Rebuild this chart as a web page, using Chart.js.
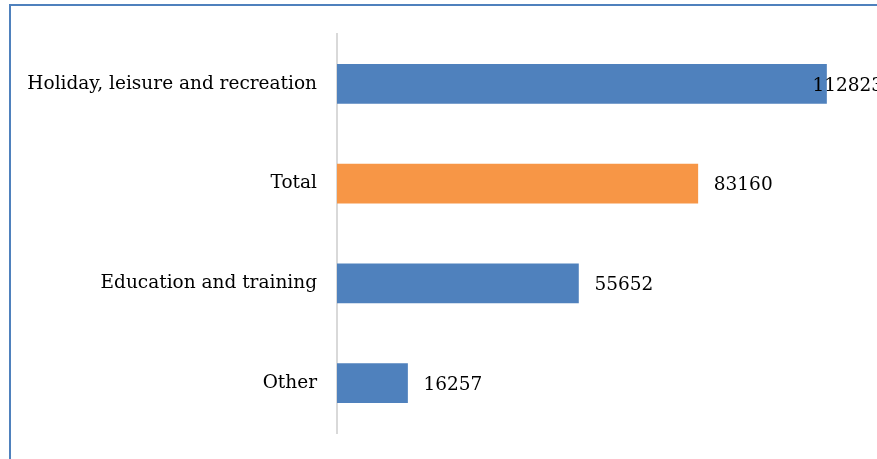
<!DOCTYPE html>
<html>
<head>
<meta charset="utf-8">
<script src="https://cdn.jsdelivr.net/npm/chart.js@4"></script>
<style>
  html, body { margin: 0; padding: 0; background: #fff; overflow: hidden; }
  #frame {
    position: absolute; left: 9px; top: 4px; width: 900px; height: 500px;
    border: 2px solid #4f81bd; box-sizing: border-box;
  }
  #wrap { position: absolute; left: 0; top: 0; width: 877px; height: 459px; }
</style>
</head>
<body>
<div id="frame"></div>
<div id="wrap"><canvas id="chart" width="877" height="459"></canvas></div>
<script>
const categories = ['Holiday, leisure and recreation', 'Total', 'Education and training', 'Other'];
const values = [112823, 83160, 55652, 16257];
const barColors = ['#4f81bd', '#f79646', '#4f81bd', '#4f81bd'];

const FONT = "'DejaVu Serif', 'Liberation Serif', serif";

// value labels to the right of each bar; the longest one is pulled back over the bar end
const valueLabels = {
  id: 'valueLabels',
  afterDatasetsDraw(chart) {
    const ctx = chart.ctx;
    const meta = chart.getDatasetMeta(0);
    ctx.save();
    ctx.font = '18.5px ' + FONT;
    ctx.fillStyle = '#000';
    ctx.textBaseline = 'middle';
    meta.data.forEach((bar, i) => {
      const text = String(values[i]);
      const w = ctx.measureText(text).width;
      let x = bar.x + 16;
      if (x + w > chart.width) x = chart.width - w + 6;
      ctx.fillText(text, x, bar.y + 2);
    });
    ctx.restore();
  }
};

new Chart(document.getElementById('chart'), {
  type: 'bar',
  data: {
    labels: categories,
    datasets: [{
      data: values,
      backgroundColor: barColors,
      barThickness: 39
    }]
  },
  options: {
    indexAxis: 'y',
    responsive: false,
    animation: false,
    layout: { padding: { top: 34, bottom: 26, left: 0, right: 2 } },
    plugins: { legend: { display: false }, tooltip: { enabled: false } },
    scales: {
      x: { display: false, min: 0, max: 124000 },
      y: {
        grid: { display: false },
        border: { color: '#d9d9d9', width: 2 },
        ticks: { color: '#000', font: { family: FONT, size: 18.5 }, padding: 12 },
        afterFit(scale) { scale.width = 337; }
      }
    }
  },
  plugins: [valueLabels]
});
</script>
</body>
</html>
